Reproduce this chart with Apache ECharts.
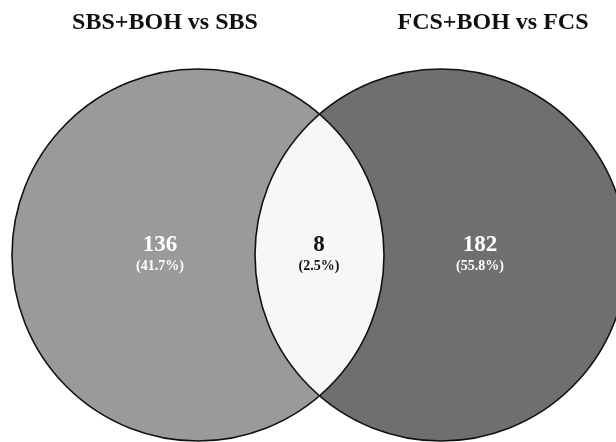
<!DOCTYPE html>
<html>
<head>
<meta charset="utf-8">
<script src="https://cdn.jsdelivr.net/npm/echarts@6/dist/echarts.min.js"></script>
<style>
  html, body { margin: 0; padding: 0; background: #fff; }
  #chart { width: 616px; height: 442px; }
</style>
</head>
<body>
<div id="chart"></div>
<script>
// data
const setNames = ['SBS+BOH vs SBS', 'FCS+BOH vs FCS'];
const regionNames = ['only left', 'both', 'only right'];
const regionCounts = [136, 8, 182];
const regionPercents = ['41.7%', '2.5%', '55.8%'];

// layout (axis units = pixels, y grows down)
const circleCenters = [[198, 255], [441, 255]];
const circleR = 186;
const labelX = [160, 319, 480];
const countY = 245;
const pctY = 266;
const fills = ['#9a9a9a', '#6f6f6f', '#f7f7f7'];
const serif = '"Liberation Serif", "Times New Roman", serif';

const chart = echarts.init(document.getElementById('chart'));

function renderItem(params, api) {
  const i = params.dataIndex;
  const r = api.size([circleR, 0])[0];
  const c1 = api.coord(circleCenters[0]);
  const c2 = api.coord(circleCenters[1]);
  const children = [];
  if (i < 2) {
    const c = i === 0 ? c1 : c2;
    children.push({
      type: 'circle',
      shape: { cx: c[0], cy: c[1], r: r },
      style: { fill: fills[i] }
    });
  } else {
    // lens between the two circles
    const a = (c2[0] - c1[0]) / 2;
    const h = Math.sqrt(r * r - a * a);
    const xm = c1[0] + a, cy = c1[1];
    children.push({
      type: 'path',
      shape: {
        pathData: 'M' + xm + ' ' + (cy - h) +
          ' A' + r + ' ' + r + ' 0 0 1 ' + xm + ' ' + (cy + h) +
          ' A' + r + ' ' + r + ' 0 0 1 ' + xm + ' ' + (cy - h) + ' Z'
      },
      style: { fill: fills[2] }
    });
    [c1, c2].forEach(function (c) {
      children.push({
        type: 'circle',
        shape: { cx: c[0], cy: c[1], r: r },
        style: { fill: null, stroke: '#111', lineWidth: 1.6 }
      });
    });
  }
  // labels: data order is left, right, lens -> region index
  const reg = i === 0 ? 0 : (i === 1 ? 2 : 1);
  const col = reg === 1 ? '#111' : '#fff';
  const pc = api.coord([labelX[reg], countY]);
  const pp = api.coord([labelX[reg], pctY]);
  children.push({
    type: 'text', z2: 10,
    style: {
      text: String(regionCounts[reg]), x: pc[0], y: pc[1],
      align: 'center', verticalAlign: 'middle',
      font: 'bold 23px ' + serif, fill: col
    }
  });
  children.push({
    type: 'text', z2: 10,
    style: {
      text: '(' + regionPercents[reg] + ')', x: pp[0], y: pp[1],
      align: 'center', verticalAlign: 'middle',
      font: 'bold 14px ' + serif, fill: col
    }
  });
  return { type: 'group', children: children };
}

chart.setOption({
  animation: false,
  backgroundColor: '#fff',
  title: [
    {
      text: setNames[0], left: 160, top: 6, textAlign: 'center',
      textStyle: { fontFamily: serif, fontWeight: 'bold', fontSize: 24, color: '#111' }
    },
    {
      text: setNames[1], left: 488, top: 6, textAlign: 'center',
      textStyle: { fontFamily: serif, fontWeight: 'bold', fontSize: 24, color: '#111' }
    }
  ],
  grid: { left: 0, right: 0, top: 0, bottom: 0 },
  xAxis: { type: 'value', min: 0, max: 616, show: false },
  yAxis: { type: 'value', min: 0, max: 442, inverse: true, show: false },
  series: [{
    type: 'custom',
    clip: true,
    renderItem: renderItem,
    data: [[0, regionNames[0]], [1, regionNames[2]], [2, regionNames[1]]]
  }]
});
</script>
</body>
</html>
